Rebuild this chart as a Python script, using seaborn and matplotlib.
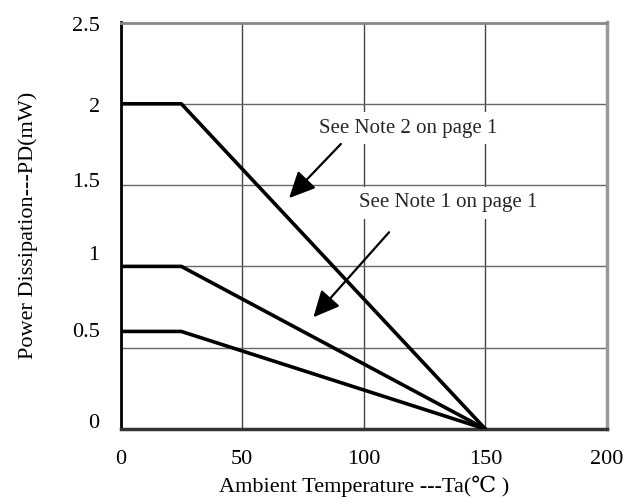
import seaborn as sns
import pandas as pd
import matplotlib
matplotlib.use('Agg')
import matplotlib.pyplot as plt

# derating curves (Ta in degC, PD in mW as printed)
temp = [0, 25, 150]
pd_top = [2.0, 2.0, 0.0]
pd_mid = [1.0, 1.0, 0.0]
pd_low = [0.6, 0.6, 0.0]

xticks = [0, 50, 100, 150, 200]
# tick labels sit a bit off the grid in the original drawing
ytick_pos = [0.05, 0.61, 1.08, 1.53, 1.99, 2.49]
ytick_labels = ['0', '0.5', '1', '1.5', '2', '2.5']
ygrid = [0.5, 1.0, 1.5, 2.0]

note2 = 'See Note 2 on page 1'
note1 = 'See Note 1 on page 1'

sns.set_theme(style='white')
plt.rcParams['font.family'] = ['Liberation Serif', 'DejaVu Serif', 'Noto Sans CJK TC']

df = pd.DataFrame({
    'Ta': temp * 3,
    'PD': pd_top + pd_mid + pd_low,
    'curve': ['top'] * 3 + ['mid'] * 3 + ['low'] * 3,
})

fig = plt.figure(figsize=(6.37, 4.99), dpi=100)
ax = fig.add_axes([120.5 / 637, 1 - 429 / 499, (607 - 120.5) / 637, (429 - 22.5) / 499])

sns.lineplot(data=df, x='Ta', y='PD', hue='curve', palette=['black'] * 3,
             linewidth=2.6, legend=False, ax=ax, zorder=3)

ax.set_xlim(0, 200)
ax.set_ylim(0, 2.5)
ax.set_xticks(xticks)
ax.set_xticklabels([str(v) for v in xticks])
ax.set_yticks(ytick_pos)
ax.set_yticklabels(ytick_labels)
ax.set_yticks(ygrid, minor=True)
ax.tick_params(which='both', length=0)
ax.tick_params(axis='x', which='major', pad=15, labelsize=16, colors='black')
ax.tick_params(axis='y', which='major', pad=15, labelsize=16, colors='black')
ax.grid(False)
ax.grid(True, axis='x', which='major', color='#444444', linewidth=1.0)
ax.grid(True, axis='y', which='minor', color='#666666', linewidth=1.0)

ax.set_xlabel('Ambient Temperature ---Ta(℃ )', fontsize=16, labelpad=5, color='black')
ax.set_ylabel('Power Dissipation---PD(mW)', fontsize=16, labelpad=24, color='black')

ax.spines['left'].set_color('black')
ax.spines['left'].set_linewidth(2)
ax.spines['bottom'].set_color('#333333')
ax.spines['bottom'].set_linewidth(2.5)
ax.spines['top'].set_color('#888888')
ax.spines['top'].set_linewidth(2)
ax.spines['right'].set_color('#999999')
ax.spines['right'].set_linewidth(2.5)

box = dict(boxstyle='square,pad=0.3', facecolor='white', edgecolor='none')
ax.text(81.6, 1.85, note2, fontsize=15, ha='left', va='center', bbox=box, zorder=4)
ax.text(98.0, 1.39, note1, fontsize=15, ha='left', va='center', bbox=box, zorder=4)

arrow = dict(arrowstyle='-|>,head_length=0.8,head_width=0.38', mutation_scale=20,
             color='black', linewidth=1.6, shrinkA=0, shrinkB=0)
ax.annotate('', xy=(69.3, 1.42), xytext=(90.6, 1.753), arrowprops=arrow, zorder=5)
ax.annotate('', xy=(79.3, 0.687), xytext=(110.4, 1.21), arrowprops=arrow, zorder=5)

fig.savefig('out.png', dpi=100)
